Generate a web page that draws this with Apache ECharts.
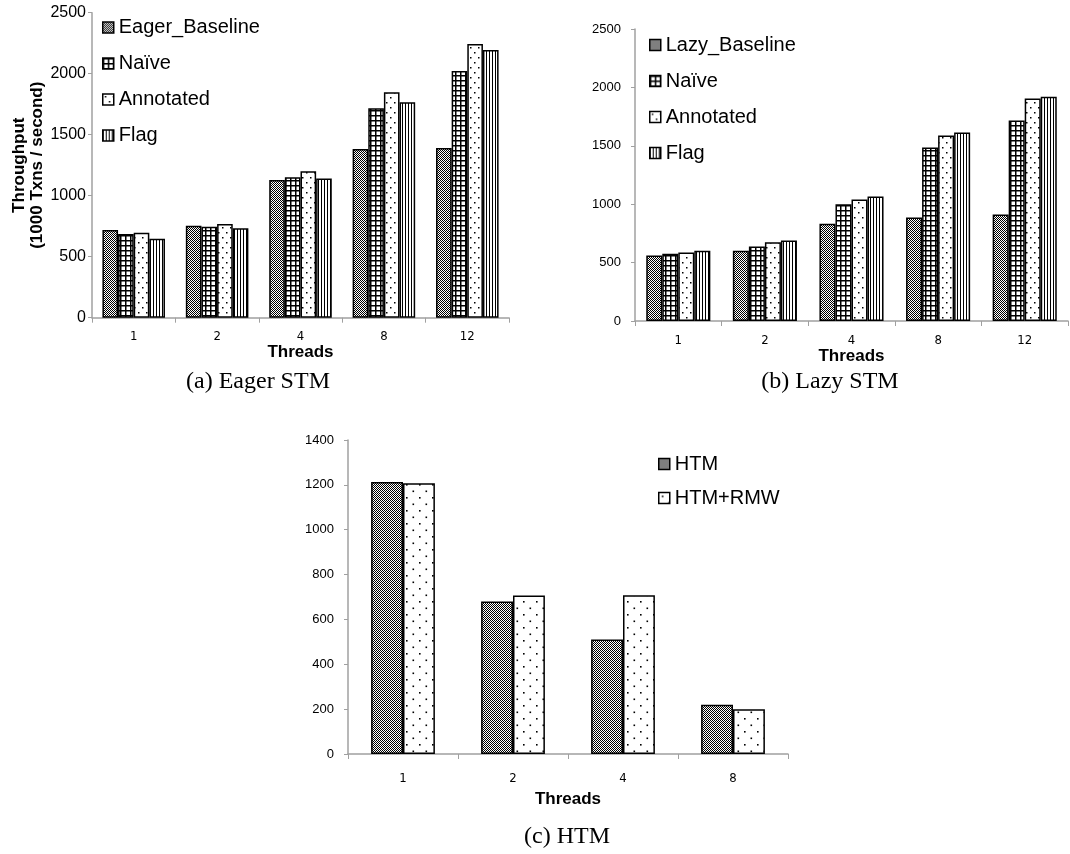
<!DOCTYPE html>
<html><head><meta charset="utf-8">
<script src="https://cdn.jsdelivr.net/npm/echarts@6/dist/echarts.min.js"></script>
<style>html,body{margin:0;padding:0;background:#fff}#c{width:1070px;height:854px}</style>
</head><body><div id="c"></div>
<script>
// ---- data ----
const threadsAB = ['1', '2', '4', '8', '12'];
const threadsC = ['1', '2', '4', '8'];
const eagerBaseline = [719, 754, 1129, 1383, 1390];
const eagerNaive = [686, 746, 1151, 1716, 2022];
const eagerAnnotated = [697, 768, 1200, 1848, 2243];
const eagerFlag = [648, 733, 1140, 1766, 2194];
const lazyBaseline = [561, 601, 832, 886, 912];
const lazyNaive = [576, 638, 1000, 1485, 1716];
const lazyAnnotated = [587, 675, 1040, 1588, 1904];
const lazyFlag = [601, 690, 1066, 1613, 1921];
const htm = [1213, 680, 510, 220];
const htmRmw = [1207, 707, 708, 200];
const ticksAB = { min: 0, max: 2500, interval: 500 };
const ticksC = { min: 0, max: 1400, interval: 200 };

// ---- patterns ----
function makePattern(w, h, draw) {
  const c = document.createElement('canvas');
  c.width = w; c.height = h;
  const g = c.getContext('2d');
  g.fillStyle = '#fff'; g.fillRect(0, 0, w, h);
  g.fillStyle = '#000'; draw(g);
  return { image: c, repeat: 'repeat' };
}
const patBase = makePattern(2, 2, g => { g.fillRect(0, 0, 1, 1); g.fillRect(1, 1, 1, 1); });
const patGrid = makePattern(5, 5, g => { g.fillRect(0, 0, 5, 1.5); g.fillRect(0, 0, 1.5, 5); });
const patDots = makePattern(8, 10, g => { g.fillRect(2, 2, 1.5, 1.5); g.fillRect(6, 7, 1.5, 1.5); });
const patDotsBig = makePattern(13, 13, g => { g.fillRect(3, 3, 1.6, 1.6); g.fillRect(9.5, 9.5, 1.6, 1.6); });
const patLines = makePattern(3, 1, g => { g.fillRect(0, 0, 1, 1); });

const AX = '#a0a0a0';
const sans = '"Liberation Sans", Arial, sans-serif';
const narrow = '"Liberation Sans Narrow", "DejaVu Sans Condensed", "Liberation Sans", sans-serif';
const plain = v => String(v);

function xAx(grid, data, margin, nameGap) {
  return {
    type: 'category', gridIndex: grid, data: data,
    axisLine: { lineStyle: { color: AX, width: 1.5 } },
    axisTick: { show: true, length: 5, lineStyle: { color: AX } },
    axisLabel: { margin: margin, fontSize: 13, fontFamily: narrow, color: '#000' },
    name: 'Threads', nameLocation: 'middle', nameGap: nameGap,
    nameTextStyle: { fontSize: 17, fontWeight: 'bold', fontFamily: sans, color: '#000' }
  };
}
function yAx(grid, t, fs, margin) {
  return {
    type: 'value', gridIndex: grid, min: t.min, max: t.max, interval: t.interval,
    axisLine: { show: true, lineStyle: { color: AX, width: 1.5 } },
    axisTick: { show: true, length: 4, lineStyle: { color: AX } },
    splitLine: { show: false },
    axisLabel: { margin: margin, fontSize: fs, fontFamily: sans, color: '#000', formatter: plain }
  };
}
function bar(name, data, idx, pat, gap) {
  return {
    type: 'bar', name: name, data: data, xAxisIndex: idx, yAxisIndex: idx,
    barGap: '0%', barCategoryGap: gap,
    itemStyle: { color: pat, borderColor: '#000', borderWidth: 1.5 },
    emphasis: { disabled: true }
  };
}
function leg(names, left, top, gap) {
  return {
    data: names, orient: 'vertical', left: left, top: top, itemGap: gap,
    itemWidth: 11, itemHeight: 11, icon: 'rect', selectedMode: false,
    textStyle: { fontSize: 20, fontFamily: sans, color: '#000' },
    itemStyle: { borderColor: '#000', borderWidth: 1.5 }
  };
}

const ya = yAx(0, ticksAB, 16, 6);
ya.name = 'Throughput\n(1000 Txns / second)';
ya.nameLocation = 'middle';
ya.nameGap = 40;
ya.nameTextStyle = { fontSize: 17, fontWeight: 'bold', fontFamily: sans, color: '#000', lineHeight: 18 };

const option = {
  animation: false,
  backgroundColor: '#fff',
  grid: [
    { left: 92, top: 12.7, width: 417, height: 305 },
    { left: 635, top: 29, width: 433, height: 292 },
    { left: 348, top: 440, width: 440, height: 314 }
  ],
  xAxis: [xAx(0, threadsAB, 12, 26), xAx(1, threadsAB, 13, 25), xAx(2, threadsC, 18, 37)],
  yAxis: [ya, yAx(1, ticksAB, 13, 14), yAx(2, ticksC, 13, 14)],
  legend: [
    leg(['Eager_Baseline', 'Naïve', 'Annotated', 'Flag'], 97, 12.5, 16),
    leg(['Lazy_Baseline', 'Naïve', 'Annotated', 'Flag'], 644, 30, 16),
    leg(['HTM', 'HTM+RMW'], 653, 449, 14)
  ],
  series: [
    bar('Eager_Baseline', eagerBaseline, 0, patBase, '25%'),
    bar('Naïve', eagerNaive, 0, patGrid, '25%'),
    bar('Annotated', eagerAnnotated, 0, patDots, '25%'),
    bar('Flag', eagerFlag, 0, patLines, '25%'),
    bar('Lazy_Baseline', lazyBaseline, 1, patBase, '26%'),
    bar('Naïve', lazyNaive, 1, patGrid, '26%'),
    bar('Annotated', lazyAnnotated, 1, patDots, '26%'),
    bar('Flag', lazyFlag, 1, patLines, '26%'),
    bar('HTM', htm, 2, patBase, '42%'),
    bar('HTM+RMW', htmRmw, 2, patDotsBig, '42%')
  ],
  graphic: [
    { type: 'text', x: 258, y: 382, style: { text: '(a) Eager STM', textAlign: 'center', textVerticalAlign: 'middle', font: '24px "Liberation Serif", serif', fill: '#000' } },
    { type: 'text', x: 830, y: 382, style: { text: '(b) Lazy STM', textAlign: 'center', textVerticalAlign: 'middle', font: '24px "Liberation Serif", serif', fill: '#000' } },
    { type: 'text', x: 567, y: 837, style: { text: '(c) HTM', textAlign: 'center', textVerticalAlign: 'middle', font: '24px "Liberation Serif", serif', fill: '#000' } }
  ]
};
const chart = echarts.init(document.getElementById('c'), null, { renderer: 'canvas' });
chart.setOption(option);
</script></body></html>
